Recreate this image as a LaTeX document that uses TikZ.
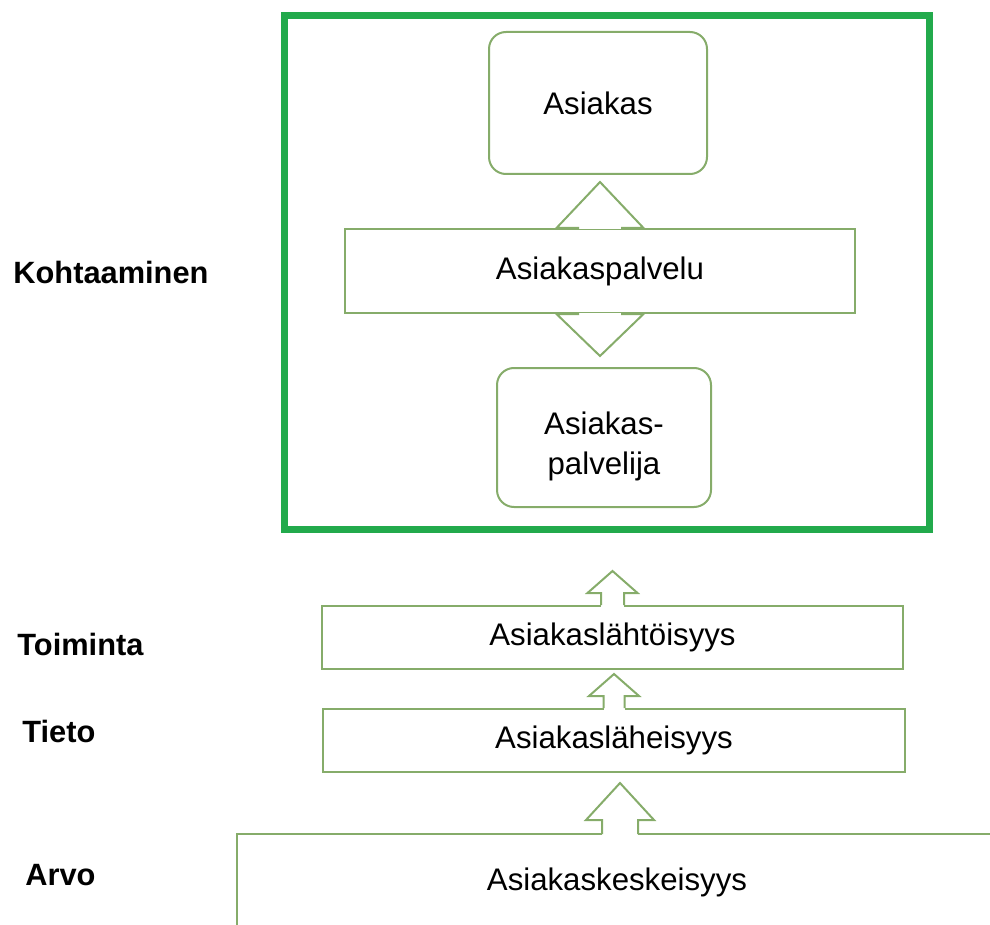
\documentclass[tikz,border=0pt]{standalone}
\usepackage{fontspec}
\setmainfont{Liberation Sans}
\usepackage{xcolor}
\definecolor{kehysvihrea}{RGB}{34,170,76}
\definecolor{laatikkovihrea}{RGB}{134,172,106}
\tikzstyle{laatikko} = [draw=laatikkovihrea, line width=1pt, fill=white,
    rectangle, inner sep=0pt]
\tikzstyle{pyorea} = [laatikko, rounded corners=8.5pt]
\tikzstyle{otsikko} = [font={\fontsize{15.4}{20}\selectfont\bfseries}, anchor=west, inner sep=0pt]
\tikzstyle{kehys} = [draw=kehysvihrea, line width=3.5pt]
\tikzstyle{nuoliviiva} = [draw=laatikkovihrea, line width=1pt]
\tikzset{
  pics/blocknuoli/.style n args={4}{code={
    \fill[white] (-#3,1.5) rectangle (#3,-1.5);
    \draw[nuoliviiva] (-#3,0) -- (-#3,-#1) -- (-#4,-#1) -- (0,-#1-#2)
        -- (#4,-#1) -- (#3,-#1) -- (#3,0);
  }}
}

\begin{document}
\begin{tikzpicture}[x=0.5pt, y=-0.5pt, font=\fontsize{15.6}{20}\selectfont]
\useasboundingbox (0,0) rectangle (990,925);
\draw[kehys] (284.5,15.5) rectangle (929.5,529);
\node[pyorea, minimum width=109pt, minimum height=71pt] (asiakas) at (598,103) {Asiakas};
\node[laatikko, minimum width=255pt, minimum height=42pt] (palvelu) at (600,271) {Asiakaspalvelu};
\node[pyorea, minimum width=107pt, minimum height=69.5pt] (palvelija) at (604,437.5) {};
\node[align=center] (palvelijateksti) at (604,446) {Asiakas-\\palvelija};
\pic at (palvelu.north) {blocknuoli={0}{46}{21}{43.5}};
\pic[yscale=-1] at (palvelu.south) {blocknuoli={0}{42}{21}{43.5}};

\node[laatikko, minimum width=290.5pt, minimum height=31.5pt] (lahto) at (612.5,637.5) {Asiakaslähtöisyys};
\node[laatikko, minimum width=291pt, minimum height=31.5pt] (laheis) at (614,740.5) {Asiakasläheisyys};
\draw[nuoliviiva] (237,925) |- (990,834);
\node (keskeis) at (617,882) {Asiakaskeskeisyys};
\coordinate (keskeisyla) at (620,834);
\pic at (lahto.north) {blocknuoli={12}{22}{11.5}{25}};
\pic at (laheis.north) {blocknuoli={12}{22}{10.5}{25}};
\pic at (keskeisyla) {blocknuoli={14}{37}{18}{34}};

\node[otsikko] (kohtaaminen) at (13,272) {Kohtaaminen};
\node[otsikko] (toiminta) at (17,644) {Toiminta};
\node[otsikko] (tieto) at (22,731) {Tieto};
\node[otsikko] (arvo) at (25,875) {Arvo};
\end{tikzpicture}
\end{document}
